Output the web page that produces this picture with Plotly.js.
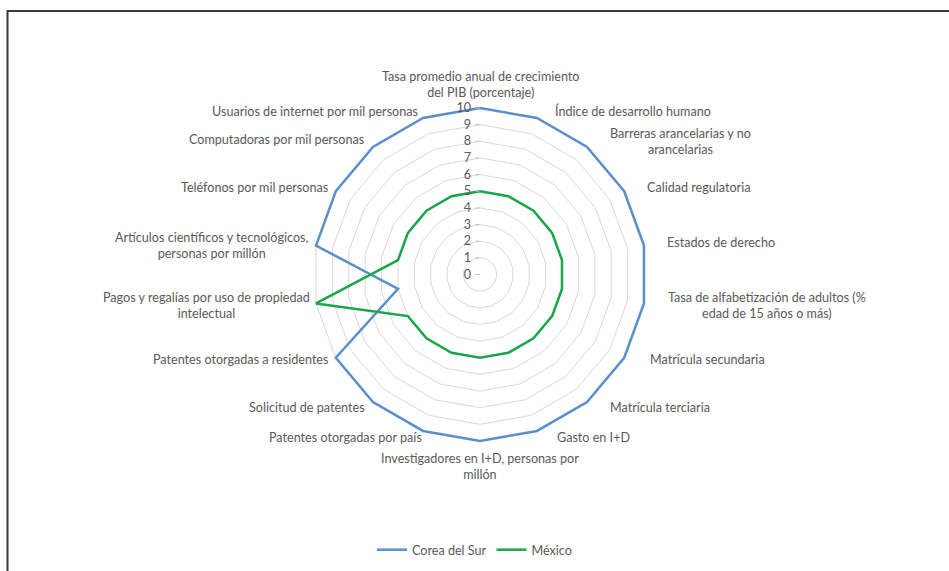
<!DOCTYPE html>
<html>
<head>
<meta charset="utf-8">
<script src="https://cdn.plot.ly/plotly-3.0.1.min.js"></script>
<style>
html,body{margin:0;padding:0;background:#fff;}
#chart{width:949px;height:571px;}
</style>
</head>
<body>
<div id="chart"></div>
<script>
const categories = [
  "Tasa promedio anual de crecimiento<br>del PIB (porcentaje)",
  "Índice de desarrollo humano",
  "Barreras arancelarias y no<br>arancelarias",
  "Calidad regulatoria",
  "Estados de derecho",
  "Tasa de alfabetización de adultos (%<br>edad de 15 años o más)",
  "Matrícula secundaria",
  "Matrícula terciaria",
  "Gasto en I+D",
  "Investigadores en I+D, personas por<br>millón",
  "Patentes otorgadas por país",
  "Solicitud de patentes",
  "Patentes otorgadas a residentes",
  "Pagos y regalías por uso de propiedad<br>intelectual",
  "Artículos científicos y tecnológicos,<br>personas por millón",
  "Teléfonos por mil personas",
  "Computadoras por mil personas",
  "Usuarios de internet por mil personas"
];
const coreaDelSur = [10,10,10,10,10,10,10,10,10,10,10,10,10,5,10,10,10,10];
const mexico      = [5,5,5,5,5,5,5,5,5,5,5,5,5,10,5,5,5,5];
const radialTicks = [0,1,2,3,4,5,6,7,8,9,10];

// label placement (pixels in the 949x571 picture): [x, y, xanchor]
const labelPlacement = [
  [480, 84, 'center'], [553, 111, 'left'], [608, 142, 'left'], [645, 187, 'left'],
  [665, 243, 'left'], [666, 305, 'left'], [648, 360, 'left'], [608, 407, 'left'],
  [555, 437, 'left'], [480, 466, 'center'], [424, 437, 'right'], [367, 407, 'right'],
  [330, 360, 'right'], [312, 305, 'right'], [311, 245, 'right'], [330, 187, 'right'],
  [366, 140, 'right'], [420, 111, 'right']
];

function closed(arr){ return arr.concat([arr[0]]); }

const traces = [
  {type:'scatterpolar', mode:'lines', name:'Corea del Sur',
   r: closed(coreaDelSur), theta: closed(categories), cliponaxis:false,
   line:{color:'#5B8FCB', width:2.5}},
  {type:'scatterpolar', mode:'lines', name:'México',
   r: closed(mexico), theta: closed(categories), cliponaxis:false,
   line:{color:'#17A64A', width:2.5}}
];

const W=949, H=571, cx=480, cy=274.5;
const RMAX = 10.25;
const R = 166.5 * RMAX / 10;
const FS = 12.6;
const annotations = categories.map((c,i)=>({
  xref:'paper', yref:'paper',
  x: labelPlacement[i][0]/W, y: 1 - labelPlacement[i][1]/H,
  xanchor: labelPlacement[i][2], yanchor:'middle',
  text:c, showarrow:false, align:'center',
  font:{size:FS, color:'#595959'}
}));

const layout = {
  width:W, height:H,
  margin:{l:0,r:0,t:0,b:0},
  paper_bgcolor:'#fff',
  font:{family:'Lato, "Open Sans", sans-serif', size:FS, color:'#595959'},
  showlegend:true,
  legend:{orientation:'h', x:0.5, xanchor:'center', y:(H-550)/H, yanchor:'middle',
          font:{size:FS, color:'#595959'}, itemwidth:30, traceorder:'normal'},
  polar:{
    domain:{x:[(cx-R)/W,(cx+R)/W], y:[(H-cy-R)/H,(H-cy+R)/H]},
    bgcolor:'rgba(0,0,0,0)',
    gridshape:'linear',
    angularaxis:{
      type:'category', categoryorder:'array', categoryarray:categories,
      rotation:90, direction:'clockwise',
      showline:false, showgrid:false, showticklabels:false, ticks:''
    },
    radialaxis:{
      range:[0,RMAX], tickvals:radialTicks, ticktext:radialTicks.map(String),
      angle:90, side:'counterclockwise', tickangle:90,
      showline:false, gridcolor:'#d9d9d9', gridwidth:1,
      ticks:'outside', ticklen:4, tickcolor:'#bfbfbf',
      tickfont:{size:FS, color:'#595959'}
    }
  },
  annotations: annotations,
  shapes:[
    {type:'rect', xref:'paper', yref:'paper', x0:7.5/W, x1:1.05, y0:-0.05, y1:(H-11)/H,
     line:{color:'#3a3a3a', width:2}, fillcolor:'rgba(0,0,0,0)'}
  ]
};

Plotly.newPlot('chart', traces, layout, {displayModeBar:false, staticPlot:true});
</script>
</body>
</html>
